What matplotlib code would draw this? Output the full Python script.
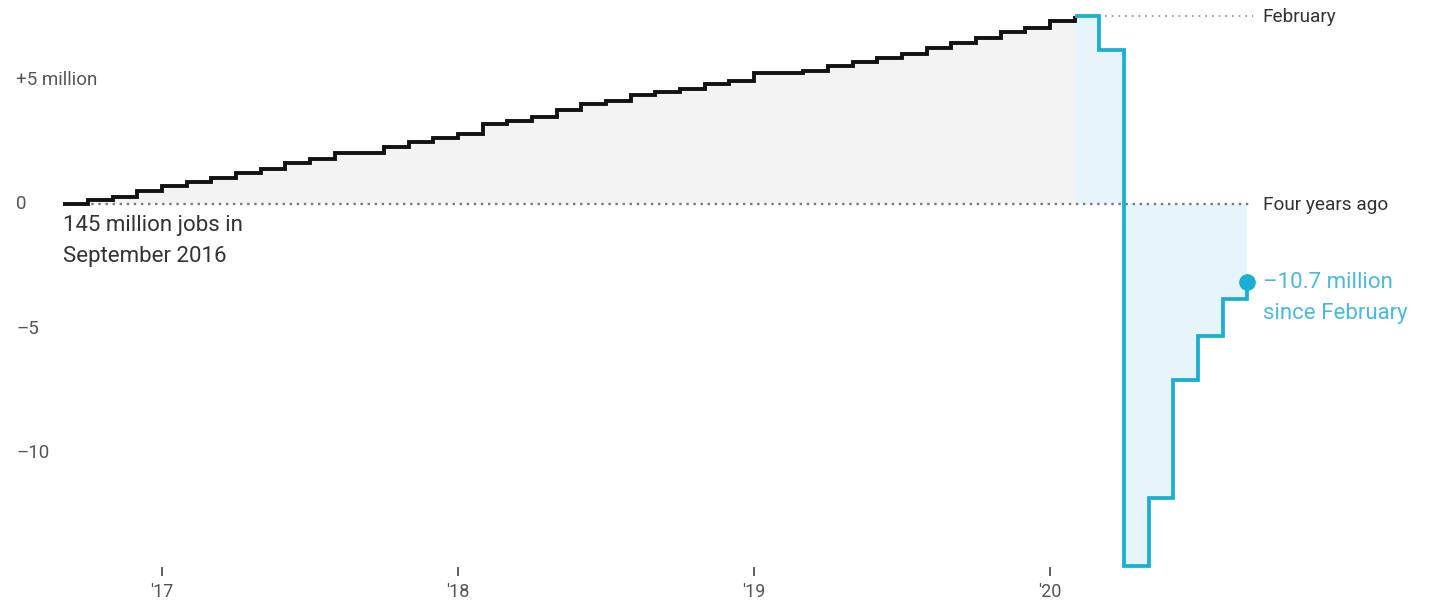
import matplotlib
matplotlib.use("Agg")
import matplotlib.pyplot as plt
import pandas as pd

plt.rcParams["font.family"] = ["Roboto", "DejaVu Sans"]

# change in total jobs since September 2016, millions (monthly, Sep 2016 .. Sep 2020)
months = pd.date_range("2016-09-01", "2020-09-01", freq="MS")
jobs = [0.00, 0.16, 0.29, 0.53, 0.73, 0.90, 1.03, 1.23, 1.39, 1.63,
        1.81, 2.06, 2.06, 2.30, 2.50, 2.66, 2.81, 3.20, 3.35, 3.49,
        3.78, 4.02, 4.15, 4.38, 4.49, 4.63, 4.81, 4.95, 5.25, 5.25,
        5.34, 5.54, 5.69, 5.85, 6.02, 6.25, 6.45, 6.65, 6.90, 7.08,
        7.33, 7.56, 6.20, -14.54, -11.82, -7.07, -5.32, -3.81, -3.14]
FEB_IDX = 41  # February 2020

year_ticks = [2017, 2018, 2019, 2020]
year_labels = ["'17", "'18", "'19", "'20"]
y_ticks = [5, 0, -5, -10]
y_labels = ["+5 million", "0", "\u20135", "\u201310"]

BLACK = "#121212"
BLUE = "#1aaed2"
BLUE_TEXT = "#4bbad9"
BLUE_FILL = "#e6f5fa"
GRAY_FILL = "#f3f3f3"

x = [m.year + (m.month - 1) / 12 for m in months]
x_old, y_old = x[:FEB_IDX + 1], jobs[:FEB_IDX + 1]
x_new, y_new = x[FEB_IDX:], jobs[FEB_IDX:]

fig = plt.figure(figsize=(14.29, 6.03), dpi=100)
ax = fig.add_axes([0, 27 / 603, 1, 576 / 603])
ax.set_xlim(2017 - 162 / 296, 2017 + (1429 - 162) / 296)
ax.set_ylim(-(576 - 204) / 24.9, 204 / 24.9)

# shaded areas
ax.fill_between(x_old, y_old, 0, step="post", color=GRAY_FILL, lw=0)
ax.fill_between(x_new, y_new, 0, step="post", color=BLUE_FILL, lw=0)

# reference lines
ax.hlines(0, x[0], x[-1] + 0.02, color="#7a7a7a", lw=1.7,
          linestyle=(0, (1, 2.0)), zorder=2)
ax.hlines(jobs[FEB_IDX], x[FEB_IDX + 1] + 0.02, x[-1] + 0.02, color="#999999",
          lw=1.3, linestyle=(0, (1, 2.7)), zorder=2)

# step lines
ax.step(x_old, y_old, where="post", color=BLACK, lw=2.8,
        solid_joinstyle="miter", solid_capstyle="butt", zorder=4)
ax.step(x_new, y_new, where="post", color=BLUE, lw=2.7,
        solid_joinstyle="miter", solid_capstyle="butt", zorder=5)
ax.plot(x[-1], jobs[-1], "o", color=BLUE, ms=11, zorder=6, clip_on=False)

# labels on the right
ax.annotate("February", (x[-1], jobs[FEB_IDX]), xytext=(11, -1),
            textcoords="offset points", va="center", ha="left",
            fontsize=13.7, color="#333333")
ax.annotate("Four years ago", (x[-1], 0), xytext=(11, -1),
            textcoords="offset points", va="center", ha="left",
            fontsize=13.7, color="#333333")
ax.annotate(f"\u2013{jobs[FEB_IDX] - jobs[-1]:.1f} million\nsince February",
            (x[-1], jobs[-1]), xytext=(11, 7), textcoords="offset points",
            va="top", ha="left", fontsize=16, color=BLUE_TEXT,
            linespacing=1.6)
ax.annotate("145 million jobs in\nSeptember 2016", (x[0], 0), xytext=(0, -8),
            textcoords="offset points", va="top", ha="left",
            fontsize=16, color="#333333", linespacing=1.6)

# y labels
ytr = ax.get_yaxis_transform()
for v, lab in zip(y_ticks, y_labels):
    ax.text(16 / 1429, v, lab, transform=ytr, ha="left", va="center",
            fontsize=13.5, color="#555555")

# x axis
for s in ax.spines.values():
    s.set_visible(False)
ax.set_yticks([])
ax.set_xticks(year_ticks)
ax.set_xticklabels(year_labels)
ax.tick_params(axis="x", direction="in", length=6.5, width=1.1, color="#333333",
               labelsize=13, labelcolor="#555555", pad=5)

fig.savefig("out.png", dpi=100)
